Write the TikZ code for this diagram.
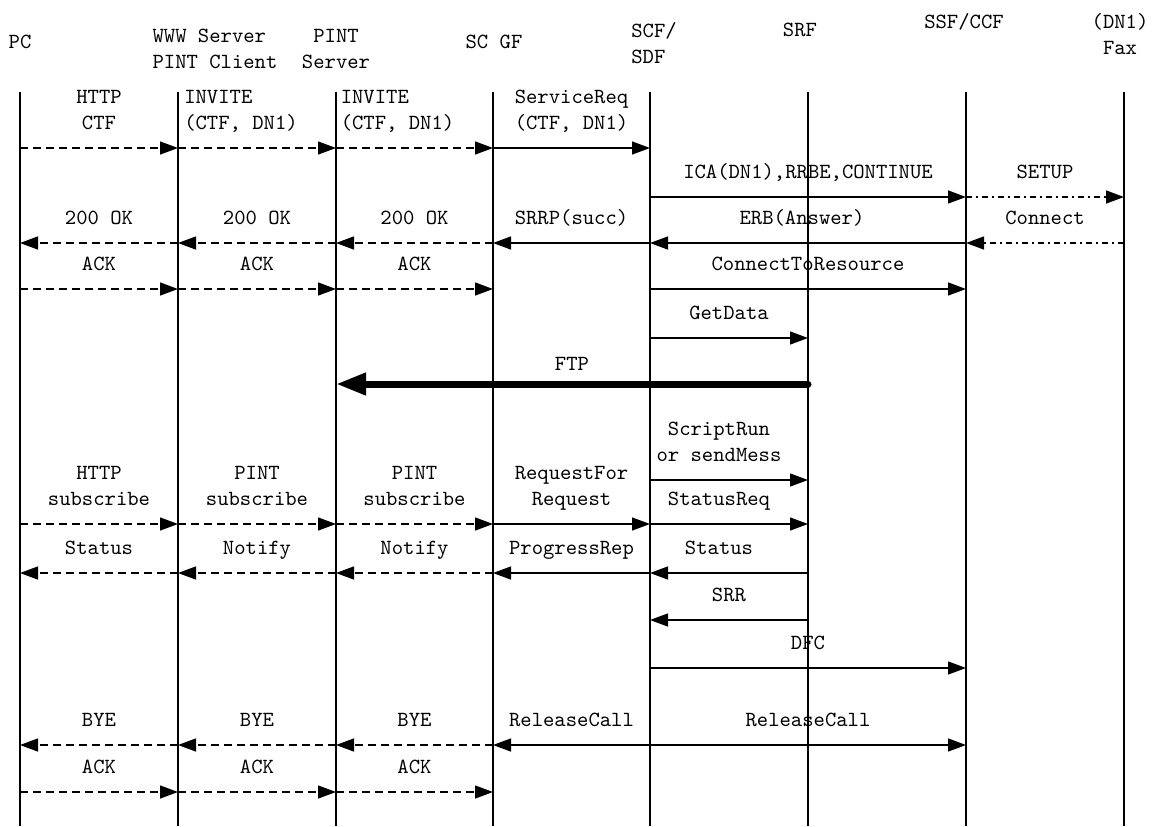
\documentclass[tikz,border=0pt]{standalone}
\usepackage{fontspec}
\usepackage{tikz}
\usetikzlibrary{arrows.meta}

\begin{document}
\begin{tikzpicture}[x=0.5pt,y=-0.5pt,>={Triangle[length=9pt,width=6.5pt]},
  font=\ttfamily\fontsize{10.8}{13}\selectfont,
  life/.style={line width=0.6pt},
  sig/.style={->,line width=0.7pt},
  dsig/.style={sig,dash pattern=on 4pt off 2.5pt},
  ddsig/.style={sig,dash pattern=on 3pt off 2pt on 1pt off 2pt},
  ftp/.style={-{Triangle[length=15pt,width=10.5pt]},line width=3.5pt,line cap=round},
  lbl/.style={above=8.7pt,inner sep=0pt,text depth=0pt,align=center},
  head/.style={inner sep=0pt,align=center}]
  \useasboundingbox (0,0) rectangle (1152,826);
  % lifelines
  \foreach \n/\x in {pc/20,www/178,pint/336,scgf/493,scf/650,srf/808,ssf/966,fax/1124} {
    \coordinate (\n) at (\x,92);
    \draw[life] (\n) -- (\x,826);
  }
  % message rows
  \foreach \r/\y in {1/148,2/197,3/243,4/289,5/338,6/384,7/480,8/524,9/573,10/620,11/668,12/745,13/792}
    \coordinate (r\r) at (0,\y);
  % headers
  \node[head] (hpc) at (20,42) {PC};
  \node[head,align=left] (hwww) at (215,49) {WWW Server\\PINT Client};
  \node[head] (hpint) at (336,49) {PINT\\Server};
  \node[head] (hscgf) at (494,42) {SC GF};
  \node[head,align=left] (hscf) at (654,43) {SCF/\\SDF};
  \node[head] (hsrf) at (800,30) {SRF};
  \node[head] (hssf) at (964,22) {SSF/CCF};
  \node[head] (hfax) at (1120,34) {(DN1)\\Fax};
  % call setup
  \draw[dsig] (pc|-r1) -- node[lbl] {HTTP\\CTF} (www|-r1);
  \draw[dsig] (www|-r1) -- node[lbl,align=left,xshift=-8pt] {INVITE\\(CTF, DN1)} (pint|-r1);
  \draw[dsig] (pint|-r1) -- node[lbl,align=left,xshift=-8.5pt] {INVITE\\(CTF, DN1)} (scgf|-r1);
  \draw[sig] (scgf|-r1) -- node[lbl] {ServiceReq\\(CTF, DN1)} (scf|-r1);
  \draw[sig] (scf|-r2) -- node[lbl] {ICA(DN1),RRBE,CONTINUE} (ssf|-r2);
  \draw[ddsig] (ssf|-r2) -- node[lbl] {SETUP} (fax|-r2);
  \draw[ddsig] (fax|-r3) -- node[lbl] {Connect} (ssf|-r3);
  \draw[sig] (ssf|-r3) -- node[lbl,xshift=-3pt] {ERB(Answer)} (scf|-r3);
  \draw[sig] (scf|-r3) -- node[lbl] {SRRP(succ)} (scgf|-r3);
  \draw[dsig] (scgf|-r3) -- node[lbl] {200 OK} (pint|-r3);
  \draw[dsig] (pint|-r3) -- node[lbl] {200 OK} (www|-r3);
  \draw[dsig] (www|-r3) -- node[lbl] {200 OK} (pc|-r3);
  \draw[dsig] (pc|-r4) -- node[lbl] {ACK} (www|-r4);
  \draw[dsig] (www|-r4) -- node[lbl] {ACK} (pint|-r4);
  \draw[dsig] (pint|-r4) -- node[lbl] {ACK} (scgf|-r4);
  \draw[sig] (scf|-r4) -- node[lbl] {ConnectToResource} (ssf|-r4);
  \draw[sig] (scf|-r5) -- node[lbl] {GetData} (srf|-r5);
  \draw[ftp] (srf|-r6) -- node[lbl,yshift=-3.7pt] {FTP} (pint|-r6);
  % subscription
  \draw[sig] (scf|-r7) -- node[lbl,xshift=-5pt] {ScriptRun\\or sendMess} (srf|-r7);
  \draw[dsig] (pc|-r8) -- node[lbl] {HTTP\\subscribe} (www|-r8);
  \draw[dsig] (www|-r8) -- node[lbl] {PINT\\subscribe} (pint|-r8);
  \draw[dsig] (pint|-r8) -- node[lbl] {PINT\\subscribe} (scgf|-r8);
  \draw[sig] (scgf|-r8) -- node[lbl] {RequestFor\\Request} (scf|-r8);
  \draw[sig] (scf|-r8) -- node[lbl,xshift=-5pt] {StatusReq} (srf|-r8);
  \draw[sig] (srf|-r9) -- node[lbl,xshift=-5pt] {Status} (scf|-r9);
  \draw[sig] (scf|-r9) -- node[lbl] {ProgressRep} (scgf|-r9);
  \draw[dsig] (scgf|-r9) -- node[lbl] {Notify} (pint|-r9);
  \draw[dsig] (pint|-r9) -- node[lbl] {Notify} (www|-r9);
  \draw[dsig] (www|-r9) -- node[lbl] {Status} (pc|-r9);
  \draw[sig] (srf|-r10) -- node[lbl] {SRR} (scf|-r10);
  \draw[sig] (scf|-r11) -- node[lbl] {DFC} (ssf|-r11);
  % release
  \draw[sig] (scf|-r12) -- node[lbl] {ReleaseCall} (scgf|-r12);
  \draw[sig] (scf|-r12) -- node[lbl] {ReleaseCall} (ssf|-r12);
  \draw[dsig] (scgf|-r12) -- node[lbl] {BYE} (pint|-r12);
  \draw[dsig] (pint|-r12) -- node[lbl] {BYE} (www|-r12);
  \draw[dsig] (www|-r12) -- node[lbl] {BYE} (pc|-r12);
  \draw[dsig] (pc|-r13) -- node[lbl] {ACK} (www|-r13);
  \draw[dsig] (www|-r13) -- node[lbl] {ACK} (pint|-r13);
  \draw[dsig] (pint|-r13) -- node[lbl] {ACK} (scgf|-r13);
\end{tikzpicture}
\end{document}
